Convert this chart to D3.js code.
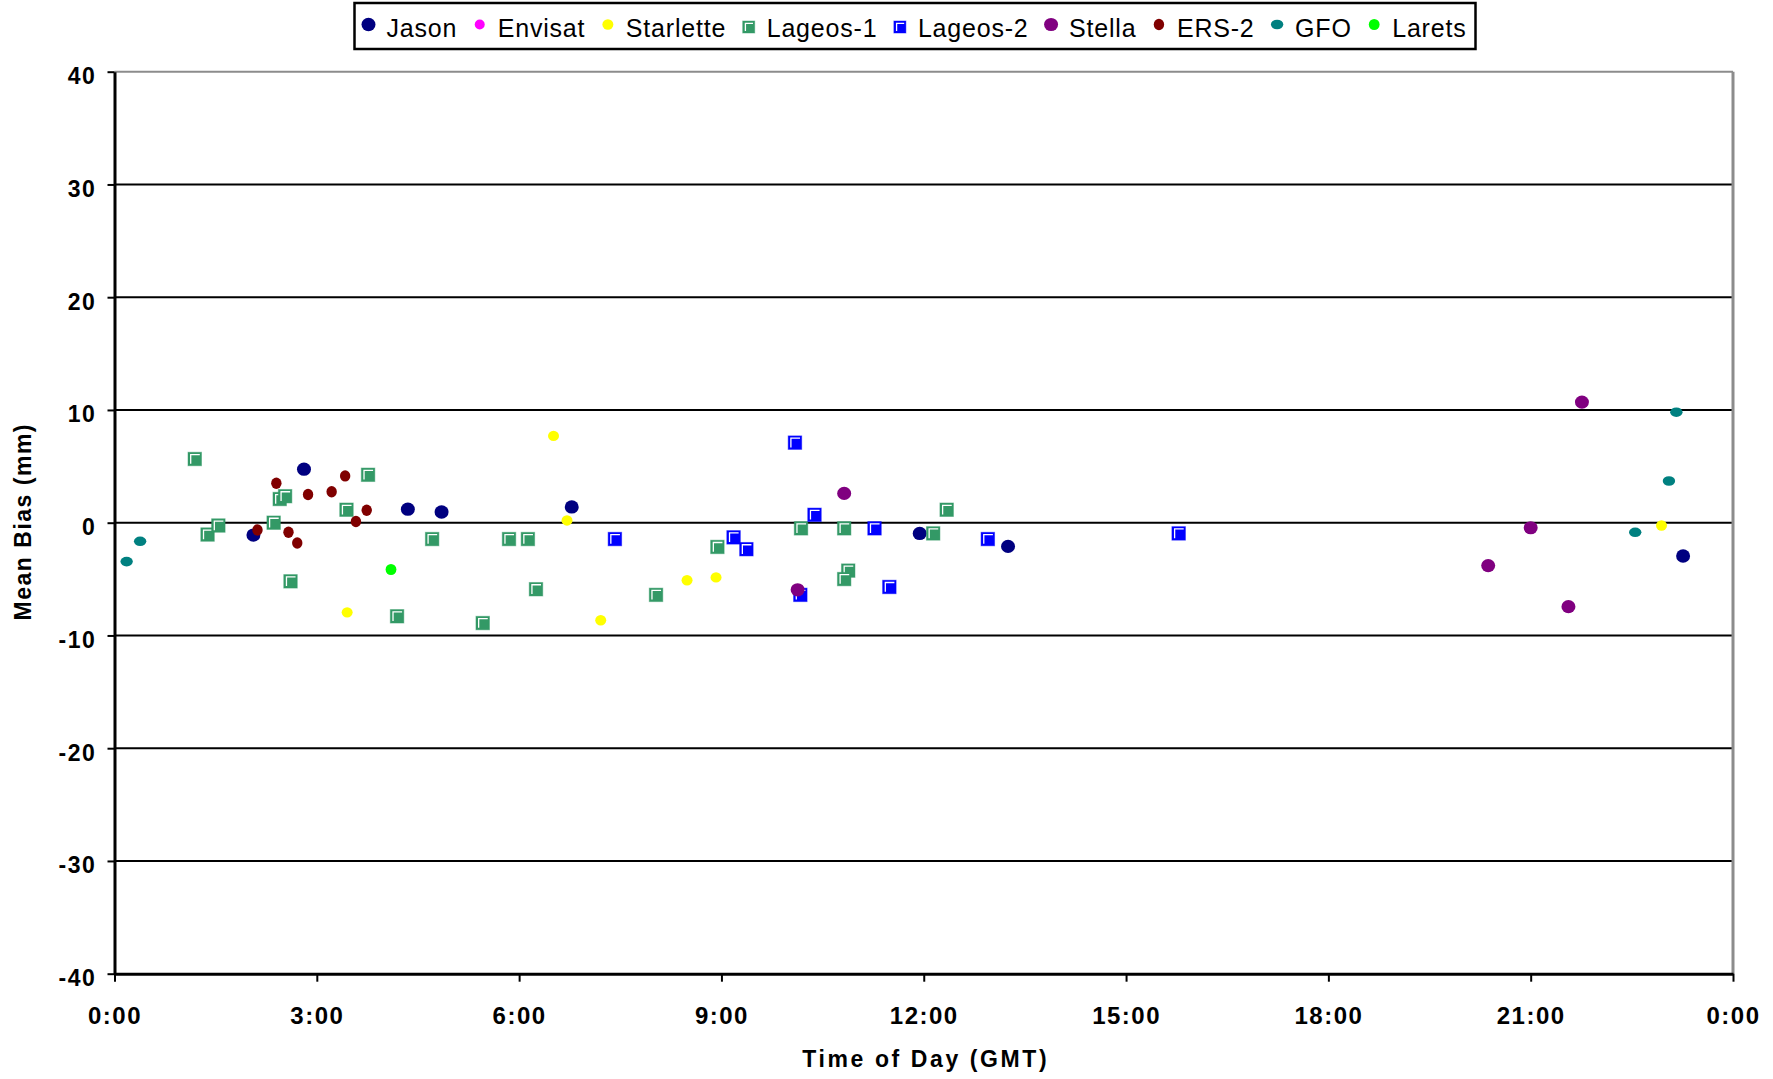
<!DOCTYPE html>
<html>
<head>
<meta charset="utf-8">
<script src="https://cdn.jsdelivr.net/npm/d3@7"></script>
<style>
  html, body { margin: 0; padding: 0; background: #fff; }
  svg { display: block; }
  text { font-family: "Liberation Sans", Arial, Helvetica, sans-serif; }
</style>
</head>
<body>
<svg id="chart" width="1773" height="1079"></svg>
<script>
// ---- Data: [time of day in hours (GMT), mean bias in mm] ----
const seriesNames = ["Jason", "Envisat", "Starlette", "Lageos-1", "Lageos-2", "Stella", "ERS-2", "GFO", "Larets"];

const jason = [[2.06, -1.1], [2.81, 4.75], [4.35, 1.2], [4.85, 0.95], [6.78, 1.4], [11.94, -0.95], [13.25, -2.1], [23.26, -2.95]];
const envisat = [];
const starlette = [[3.45, -7.95], [6.51, 7.7], [6.71, 0.2], [7.21, -8.65], [8.49, -5.1], [8.92, -4.85], [22.94, -0.25]];
const lageos1 = [[1.19, 5.65], [1.38, -1.05], [1.54, -0.25], [2.36, 0.0], [2.45, 2.1], [2.53, 2.35], [2.61, -5.2],
                 [3.44, 1.15], [3.76, 4.25], [4.19, -8.3], [4.71, -1.45], [5.46, -8.9], [5.85, -1.45], [6.13, -1.45],
                 [6.25, -5.9], [8.03, -6.4], [8.94, -2.15], [10.18, -0.5], [10.82, -0.5], [10.88, -4.25], [10.82, -5.0],
                 [12.14, -0.95], [12.34, 1.15]];
const lageos2 = [[7.42, -1.45], [9.18, -1.3], [9.37, -2.35], [10.09, 7.1], [10.17, -6.4], [10.38, 0.7], [11.27, -0.5],
                 [11.49, -5.7], [12.95, -1.45], [15.78, -0.95]];
const stella = [[10.13, -5.95], [10.82, 2.6], [20.37, -3.8], [21.0, -0.45], [21.56, -7.45], [21.76, 10.7]];
const ers2 = [[2.12, -0.65], [2.40, 3.5], [2.58, -0.85], [2.71, -1.8], [2.87, 2.5], [3.22, 2.75], [3.42, 4.15], [3.58, 0.1], [3.74, 1.1]];
const gfo = [[0.18, -3.45], [0.38, -1.65], [22.55, -0.85], [23.05, 3.7], [23.16, 9.8]];
const larets = [[4.10, -4.15]];

const seriesData = [jason, envisat, starlette, lageos1, lageos2, stella, ers2, gfo, larets];

const yTicks = [-40, -30, -20, -10, 0, 10, 20, 30, 40];
const xTicks = [0, 3, 6, 9, 12, 15, 18, 21, 24];
const xTickLabels = ["0:00", "3:00", "6:00", "9:00", "12:00", "15:00", "18:00", "21:00", "0:00"];

// ---- Styles ----
const seriesColors = ["#000080", "#FF00FF", "#FFFF00", "#339966", "#0000FF", "#800080", "#800000", "#008080", "#00FF00"];
const markerStyles = [
  { shape: "dot", rx: 7.0, ry: 6.7 },
  { shape: "dot", rx: 5.0, ry: 5.0 },
  { shape: "dot", rx: 5.5, ry: 5.2 },
  { shape: "square", size: 13.5 },
  { shape: "square", size: 13.5 },
  { shape: "dot", rx: 7.0, ry: 6.6 },
  { shape: "dot", rx: 5.2, ry: 5.7 },
  { shape: "dot", rx: 6.2, ry: 4.8 },
  { shape: "dot", rx: 5.4, ry: 5.6 }
];

const svg = d3.select("#chart");
svg.append("rect").attr("width", 1773).attr("height", 1079).attr("fill", "#fff");

const plot = { left: 114.5, right: 1733, top: 71.7, bottom: 973.7 };
const x = d3.scaleLinear().domain([0, 24]).range([plot.left, plot.right]);
const y = d3.scaleLinear().domain([-40, 40]).range([plot.bottom, plot.top]);

// Horizontal gridlines
svg.append("g")
  .selectAll("line")
  .data(yTicks.filter(v => v > -40 && v < 40))
  .join("line")
  .attr("x1", plot.left).attr("x2", plot.right)
  .attr("y1", d => y(d)).attr("y2", d => y(d))
  .attr("stroke", "#000").attr("stroke-width", 2);

// Top and right frame edges (grey)
svg.append("line")
  .attr("x1", plot.left).attr("x2", plot.right)
  .attr("y1", y(40)).attr("y2", y(40))
  .attr("stroke", "#8c8c8c").attr("stroke-width", 2);
svg.append("line")
  .attr("x1", plot.right).attr("x2", plot.right)
  .attr("y1", y(40)).attr("y2", y(-40))
  .attr("stroke", "#8c8c8c").attr("stroke-width", 3);

// Y axis
const yAxis = svg.append("g")
  .attr("transform", `translate(${plot.left},0)`)
  .call(d3.axisLeft(y).tickValues(yTicks).tickFormat(d => String(d)).tickSize(7).tickSizeOuter(0).tickPadding(11));
yAxis.select(".domain").attr("stroke", "#000").attr("stroke-width", 3);
yAxis.selectAll(".tick line").attr("stroke", "#000").attr("stroke-width", 2);
yAxis.selectAll(".tick text")
  .attr("fill", "#000")
  .attr("font-size", 23).attr("font-weight", "bold")
  .attr("letter-spacing", "1.6px")
  .attr("dy", "0.52em")
  .style("font-family", '"Liberation Sans", Arial, sans-serif');

// X axis
const xAxis = svg.append("g")
  .attr("transform", `translate(0,${plot.bottom})`)
  .call(d3.axisBottom(x).tickValues(xTicks).tickFormat((d, i) => xTickLabels[i]).tickSize(8).tickSizeOuter(0));
xAxis.select(".domain").attr("stroke", "#000").attr("stroke-width", 3);
xAxis.selectAll(".tick line").attr("stroke", "#000").attr("stroke-width", 2);
xAxis.selectAll(".tick text")
  .attr("fill", "#000")
  .attr("y", 50).attr("dy", 0)
  .attr("font-size", 24).attr("font-weight", "bold")
  .attr("letter-spacing", "1.5px")
  .style("font-family", '"Liberation Sans", Arial, sans-serif');

// Axis titles
svg.append("text")
  .attr("transform", `translate(31,${(plot.top + plot.bottom) / 2 - 1}) rotate(-90)`)
  .attr("text-anchor", "middle")
  .attr("font-size", 23).attr("font-weight", "bold")
  .attr("letter-spacing", "1.5px")
  .text("Mean Bias (mm)");
svg.append("text")
  .attr("x", (plot.left + plot.right) / 2 + 2).attr("y", 1067)
  .attr("text-anchor", "middle")
  .attr("font-size", 23).attr("font-weight", "bold")
  .attr("letter-spacing", "2.6px")
  .text("Time of Day (GMT)");

// Marker drawing
function drawMarker(g, style, color, cx, cy) {
  if (style.shape === "square") {
    const s = style.size, h = s / 2;
    g.append("rect")
      .attr("x", cx - h).attr("y", cy - h).attr("width", s).attr("height", s)
      .attr("fill", color).attr("stroke", color).attr("stroke-opacity", 0.45).attr("stroke-width", 1);
    g.append("path")
      .attr("d", `M${cx - h + 2.7},${cy + h - 2}V${cy - h + 2.3}H${cx + h - 1.7}`)
      .attr("fill", "none").attr("stroke", "#fff").attr("stroke-width", 1.3);
  } else {
    g.append("ellipse")
      .attr("cx", cx).attr("cy", cy).attr("rx", style.rx).attr("ry", style.ry)
      .attr("fill", color);
  }
}

// Points, series in order so later series sit on top
const pointsLayer = svg.append("g");
seriesData.forEach((pts, si) => {
  const sg = pointsLayer.append("g").attr("class", "series");
  sg.selectAll("g.pt")
    .data(pts)
    .join("g").attr("class", "pt")
    .each(function (d) {
      drawMarker(d3.select(this), markerStyles[si], seriesColors[si], x(d[0]), y(d[1]));
    });
});

// Legend
const legend = { left: 354.5, top: 3, width: 1121, height: 46 };
const lg = svg.append("g");
lg.append("rect")
  .attr("x", legend.left).attr("y", legend.top)
  .attr("width", legend.width).attr("height", legend.height)
  .attr("fill", "#fff").attr("stroke", "#000").attr("stroke-width", 2.5);

const items = seriesNames.map((name, i) => {
  const g = lg.append("g");
  const t = g.append("text")
    .attr("font-size", 25).attr("letter-spacing", "0.8px")
    .attr("fill", "#000").attr("y", 37)
    .text(name);
  return { g, t, w: t.node().getComputedTextLength(), i };
});
const markerToText = 18;
const firstMarker = legend.left + 14;
const lastTextEnd = legend.left + legend.width - 9;
const totalUsed = d3.sum(items, it => markerToText + it.w);
const gap = (lastTextEnd - firstMarker - totalUsed) / (items.length - 1);
let cursor = firstMarker;
items.forEach(it => {
  const st = markerStyles[it.i];
  const legendStyle = st.shape === "square" ? { shape: "square", size: 12 } : st;
  drawMarker(it.g, legendStyle, seriesColors[it.i], cursor, st.shape === "square" ? 27 : 24.5);
  it.t.attr("x", cursor + markerToText);
  cursor += markerToText + it.w + gap;
});
</script>
</body>
</html>
